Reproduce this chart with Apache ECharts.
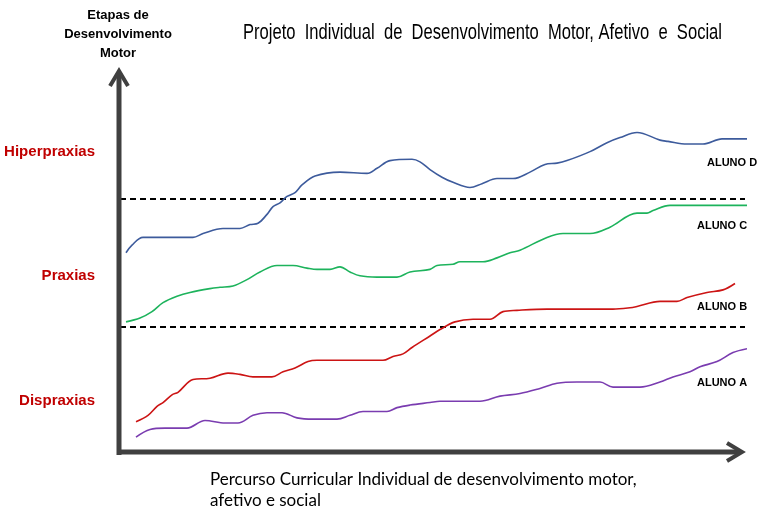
<!DOCTYPE html>
<html>
<head>
<meta charset="utf-8">
<script src="https://cdn.jsdelivr.net/npm/echarts@6/dist/echarts.min.js"></script>
<style>html,body{margin:0;padding:0;background:#fff;}#c{width:767px;height:515px;}</style>
</head>
<body>
<div id="c"></div>
<script>
// x: percurso (0-100), y: etapa (0 = base, 1 = limite Dispraxias/Praxias, 2 = limite Praxias/Hiperpraxias)
var stageNames = ['Dispraxias', 'Praxias', 'Hiperpraxias'];
var stagePos = [0.42, 1.40, 2.37];
var thresholds = [1, 2];
var studentNames = ['ALUNO D', 'ALUNO C', 'ALUNO B', 'ALUNO A'];

var alunoD = [[0.96,1.58],[1.92,1.64],[3.68,1.70],[11.68,1.70],[13.28,1.73],[16.48,1.77],[19.2,1.77],[20.8,1.80],[22.08,1.81],[23.52,1.88],[24.48,1.94],[25.6,1.97],[26.72,2.02],[28.0,2.05],[29.12,2.11],[31.2,2.18],[35.2,2.21],[39.52,2.20],[41.12,2.24],[43.2,2.30],[46.72,2.31],[48.0,2.29],[49.6,2.23],[51.52,2.17],[53.28,2.13],[56.0,2.09],[57.92,2.12],[60.32,2.16],[62.88,2.16],[65.6,2.21],[68.0,2.27],[69.92,2.28],[71.52,2.30],[75.2,2.37],[77.92,2.44],[80.0,2.48],[82.72,2.52],[86.4,2.46],[87.68,2.45],[90.72,2.43],[93.28,2.43],[96.32,2.47],[100.8,2.47]];
var alunoC = [[0.96,1.04],[3.2,1.07],[5.12,1.12],[6.88,1.19],[9.12,1.24],[11.2,1.27],[14.4,1.30],[16.0,1.31],[18.08,1.32],[20.32,1.37],[22.4,1.43],[25.12,1.48],[27.68,1.48],[29.92,1.46],[31.52,1.45],[33.6,1.45],[35.2,1.47],[36.8,1.43],[38.4,1.40],[41.12,1.39],[44.32,1.39],[46.4,1.43],[49.6,1.45],[50.72,1.48],[53.28,1.49],[54.4,1.51],[58.08,1.51],[60.32,1.54],[62.4,1.58],[64.0,1.60],[68.32,1.70],[70.88,1.73],[75.2,1.73],[78.4,1.78],[82.72,1.89],[84.32,1.89],[85.28,1.91],[88.0,1.95],[100.8,1.95]];
var alunoB = [[2.56,0.26],[4.48,0.31],[5.92,0.38],[6.88,0.41],[8.32,0.47],[9.28,0.49],[11.68,0.59],[14.4,0.60],[17.28,0.64],[19.2,0.63],[21.28,0.61],[24.32,0.61],[26.08,0.65],[28.0,0.68],[30.08,0.73],[31.52,0.74],[42.08,0.74],[43.68,0.77],[45.28,0.79],[46.72,0.84],[49.6,0.93],[51.2,0.98],[53.6,1.04],[56.48,1.06],[59.2,1.06],[61.28,1.12],[63.52,1.13],[68.32,1.14],[78.88,1.14],[81.6,1.15],[82.72,1.16],[86.4,1.20],[89.12,1.20],[90.72,1.23],[93.92,1.27],[96.48,1.29],[98.4,1.34]];
var alunoA = [[2.56,0.14],[4.8,0.20],[7.2,0.21],[10.72,0.21],[13.6,0.27],[16.8,0.25],[18.88,0.25],[21.28,0.31],[23.52,0.33],[25.92,0.33],[28.32,0.29],[30.88,0.28],[34.72,0.28],[36.8,0.31],[38.88,0.34],[42.72,0.34],[44.32,0.37],[46.4,0.39],[49.6,0.41],[51.2,0.42],[57.6,0.42],[60.8,0.46],[64.0,0.48],[67.2,0.52],[69.92,0.56],[73.12,0.57],[76.8,0.57],[78.88,0.53],[83.2,0.53],[86.4,0.57],[88.48,0.61],[91.2,0.65],[92.8,0.69],[95.52,0.73],[98.08,0.80],[100.32,0.83]];

var chart = echarts.init(document.getElementById('c'), null, {renderer: 'canvas'});

function mkLine(name, data, color, extra) {
  var s = {
    name: name, type: 'line', data: data, smooth: 0.35, showSymbol: false, clip: false,
    lineStyle: {color: color, width: 1.6}, itemStyle: {color: color}, z: 3
  };
  if (extra) for (var k in extra) s[k] = extra[k];
  return s;
}

var series = [
  mkLine(studentNames[0], alunoD, '#3d5b9c', {
    markLine: {
      silent: true, symbol: 'none', label: {show: false}, z: 2,
      lineStyle: {color: '#000', type: [6, 4], width: 2},
      data: thresholds.map(function (t) { return [{coord: [0, t]}, {coord: [100, t]}]; })
    }
  }),
  mkLine(studentNames[1], alunoC, '#1db35c'),
  mkLine(studentNames[2], alunoB, '#cc1414'),
  mkLine(studentNames[3], alunoA, '#7a3cb0')
];

chart.setOption({
  animation: false,
  backgroundColor: '#fff',
  grid: {left: 120, right: 22, top: 71, bottom: 60},
  xAxis: {type: 'value', min: 0, max: 100, show: false},
  yAxis: {type: 'value', min: 0, max: 3, show: false},
  series: series
});

var redLabel = {fontFamily: 'Liberation Sans, Arial, sans-serif', fontWeight: 'bold', fontSize: 15, fill: '#c00000', textAlign: 'right', textVerticalAlign: 'middle'};
var g = [];
// axes (decoration)
g.push({type: 'polyline', shape: {points: [[119, 455], [119, 73]]}, style: {stroke: '#404040', lineWidth: 5, fill: null}, z: 10});
g.push({type: 'polyline', shape: {points: [[110, 86], [119, 71], [128, 86]]}, style: {stroke: '#404040', lineWidth: 4, fill: null, lineJoin: 'miter'}, z: 10});
g.push({type: 'polyline', shape: {points: [[117, 452], [740, 452]]}, style: {stroke: '#404040', lineWidth: 5, fill: null}, z: 10});
g.push({type: 'polyline', shape: {points: [[727, 443], [742, 452], [727, 461]]}, style: {stroke: '#404040', lineWidth: 4, fill: null, lineJoin: 'miter'}, z: 10});

// stage labels
for (var i = 0; i < stageNames.length; i++) {
  var py = chart.convertToPixel({gridIndex: 0}, [0, stagePos[i]])[1];
  g.push({type: 'text', x: 95, y: py, style: Object.assign({text: stageNames[i]}, redLabel)});
}
// student labels
var lblPos = [[707, 163], [697, 226], [697, 307], [697, 383]];
for (var j = 0; j < studentNames.length; j++) {
  g.push({type: 'text', x: lblPos[j][0], y: lblPos[j][1], style: {text: studentNames[j], fontFamily: 'Liberation Sans, Arial, sans-serif', fontWeight: 'bold', fontSize: 11, fill: '#000', textVerticalAlign: 'middle'}});
}
// y axis name
g.push({type: 'text', x: 118, y: 34, style: {text: 'Etapas de\nDesenvolvimento\nMotor', fontFamily: 'Liberation Sans, Arial, sans-serif', fontWeight: 'bold', fontSize: 13, lineHeight: 19, fill: '#000', textAlign: 'center', textVerticalAlign: 'middle'}});
// title (condensed by horizontal scaling)
var titleText = 'Projeto  Individual  de  Desenvolvimento  Motor, Afetivo  e  Social';
var titleFont = '22px "Liberation Sans", Arial, sans-serif';
var ctx = document.createElement('canvas').getContext('2d');
ctx.font = titleFont;
var tw = ctx.measureText(titleText).width;
var sx = 479 / tw;
g.push({type: 'text', x: 243, y: 33, scaleX: sx, scaleY: 1, style: {text: titleText, font: titleFont, fill: '#000', textVerticalAlign: 'middle'}});
// x axis name
g.push({type: 'text', x: 210, y: 490, style: {text: 'Percurso Curricular Individual de desenvolvimento motor,\nafetivo e social', fontFamily: 'Lato, Open Sans, sans-serif', fontSize: 17, lineHeight: 21, fill: '#000', textVerticalAlign: 'middle'}});

chart.setOption({graphic: {elements: g}});
</script>
</body>
</html>
